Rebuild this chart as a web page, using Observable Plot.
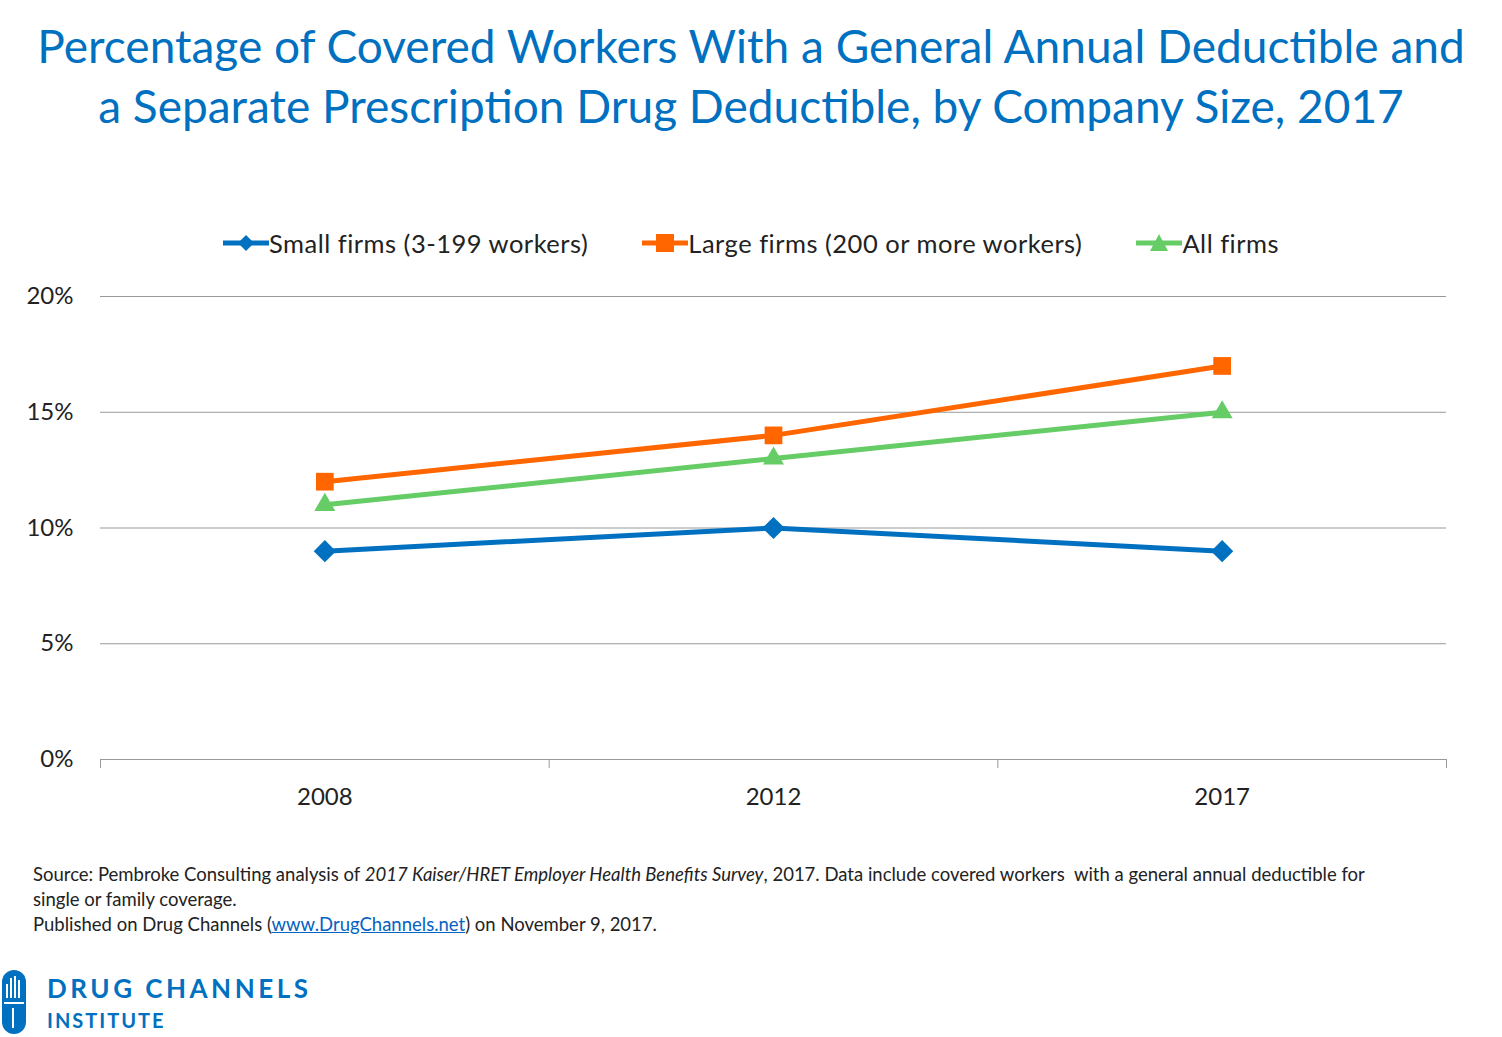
<!DOCTYPE html>
<html><head><meta charset="utf-8">
<script src="https://cdn.jsdelivr.net/npm/d3@7"></script>
<script src="https://cdn.jsdelivr.net/npm/@observablehq/plot@0.6"></script>
<style>
body{margin:0;width:1502px;height:1037px;position:relative;background:#fff;font-family:Lato,"Open Sans",sans-serif;overflow:hidden}
#title{position:absolute;top:16px;left:0;width:1502px;text-align:center;color:#0070C0;font-size:46px;letter-spacing:0;line-height:60px}
#legend{position:absolute;top:228px;left:0;width:1502px;text-align:center;font-size:25.5px;letter-spacing:0.5px;color:#222}
#legend span{margin:0 27px;display:inline-flex;align-items:center}
#chart{position:absolute;top:0;left:0}
#src{position:absolute;top:862px;left:33px;width:1375px;font-size:18.5px;line-height:25px;color:#222}
#src a{color:#0563C1}
#logo{position:absolute;top:968px;left:0}
</style></head><body>
<div id="chart"></div>
<div id="title">Percentage of Covered Workers With a General Annual Deductible and<br>a Separate Prescription Drug Deductible, by Company Size, 2017</div>
<div id="legend"></div>
<div id="src">Source: Pembroke Consulting analysis of <i>2017 Kaiser/HRET Employer Health Benefits Survey</i>, 2017. Data include covered workers&nbsp; with a general annual deductible for single or family coverage.<br>Published on Drug Channels (<a href="#">www.DrugChannels.net</a>) on November 9, 2017.</div>
<div id="logo"><svg width="340" height="70">
<rect x="2" y="2" width="24" height="64" rx="12" fill="#0070C0"/>
<rect x="6" y="16" width="2" height="14" fill="#fff"/><rect x="10" y="10" width="2" height="20" fill="#fff"/><rect x="14" y="8" width="2" height="22" fill="#fff"/><rect x="18" y="12" width="2" height="18" fill="#fff"/>
<rect x="4" y="34" width="20" height="2" fill="#fff"/><rect x="12" y="40" width="2" height="20" fill="#fff"/>
<text x="47" y="30" font-family="Lato" font-weight="bold" font-size="26" letter-spacing="3.5" fill="#0070C0">DRUG CHANNELS</text>
<text x="47" y="60" font-family="Lato" font-weight="bold" font-size="20" letter-spacing="2" fill="#0070C0">INSTITUTE</text>
</svg></div>
<script>
const years = ["2008","2012","2017"];
const small = [9, 10, 9];
const large = [12, 14, 17];
const all = [11, 13, 15];
const seriesNames = ["Small firms (3-199 workers)","Large firms (200 or more workers)","All firms"];
const colors = ["#0070C0","#FF6600","#66CC66"];
const symbols = ["diamond2","square","triangle2"];
const yTicks = [0,5,10,15,20];

const data = [];
[small, large, all].forEach((vals, s) => vals.forEach((v, i) => data.push({series: seriesNames[s], x: i + 0.5, year: years[i], v})));

const chart = Plot.plot({
  width: 1502, height: 1037,
  marginTop: 296, marginBottom: 278, marginLeft: 100, marginRight: 56,
  x: {domain: [0, 3]},
  y: {domain: [0, 20]},
  color: {domain: seriesNames, range: colors},
  symbol: {domain: seriesNames, range: symbols},
  style: {fontFamily: "Lato, 'Open Sans', sans-serif", fontSize: "24px", color: "#222"},
  marks: [
    Plot.gridY(yTicks.filter(d => d > 0), {stroke: "#999", strokeOpacity: 1, strokeWidth: 1}),
    Plot.ruleY([0], {stroke: "#999"}),
    Plot.axisY({ticks: yTicks, tickSize: 0, tickFormat: d => d + "%", label: null, fontSize: 24, dx: -27, textAnchor: "end", tickPadding: 0, marginLeft: 0}),
    Plot.axisX({ticks: [0,1,2,3], tickSize: 9, tickFormat: () => "", label: null, stroke: "#999"}),
    Plot.axisX({ticks: [0.5,1.5,2.5], tickSize: 0, tickFormat: d => years[Math.floor(d)], label: null, fontSize: 24, tickPadding: 28}),
    Plot.line(data, {x: "x", y: "v", z: "series", stroke: "series", strokeWidth: 5}),
    Plot.dot(data, {x: "x", y: "v", symbol: "series", fill: "series", r: 10, stroke: "none"})
  ]
});
document.getElementById("chart").appendChild(chart);

const leg = document.getElementById("legend");
const shapes = [
  c => `<polygon points="23,2 31,10 23,18 15,10" fill="${c}"/>`,
  c => `<rect x="14" y="1" width="18" height="18" fill="${c}"/>`,
  c => `<polygon points="23,1 32,18 14,18" fill="${c}"/>`
];
seriesNames.forEach((n, i) => {
  const s = document.createElement("span");
  s.innerHTML = `<svg width="46" height="20"><line x1="0" x2="46" y1="10" y2="10" stroke="${colors[i]}" stroke-width="5"/>${shapes[i](colors[i])}</svg>${n}`;
  leg.appendChild(s);
});
</script>
</body></html>
